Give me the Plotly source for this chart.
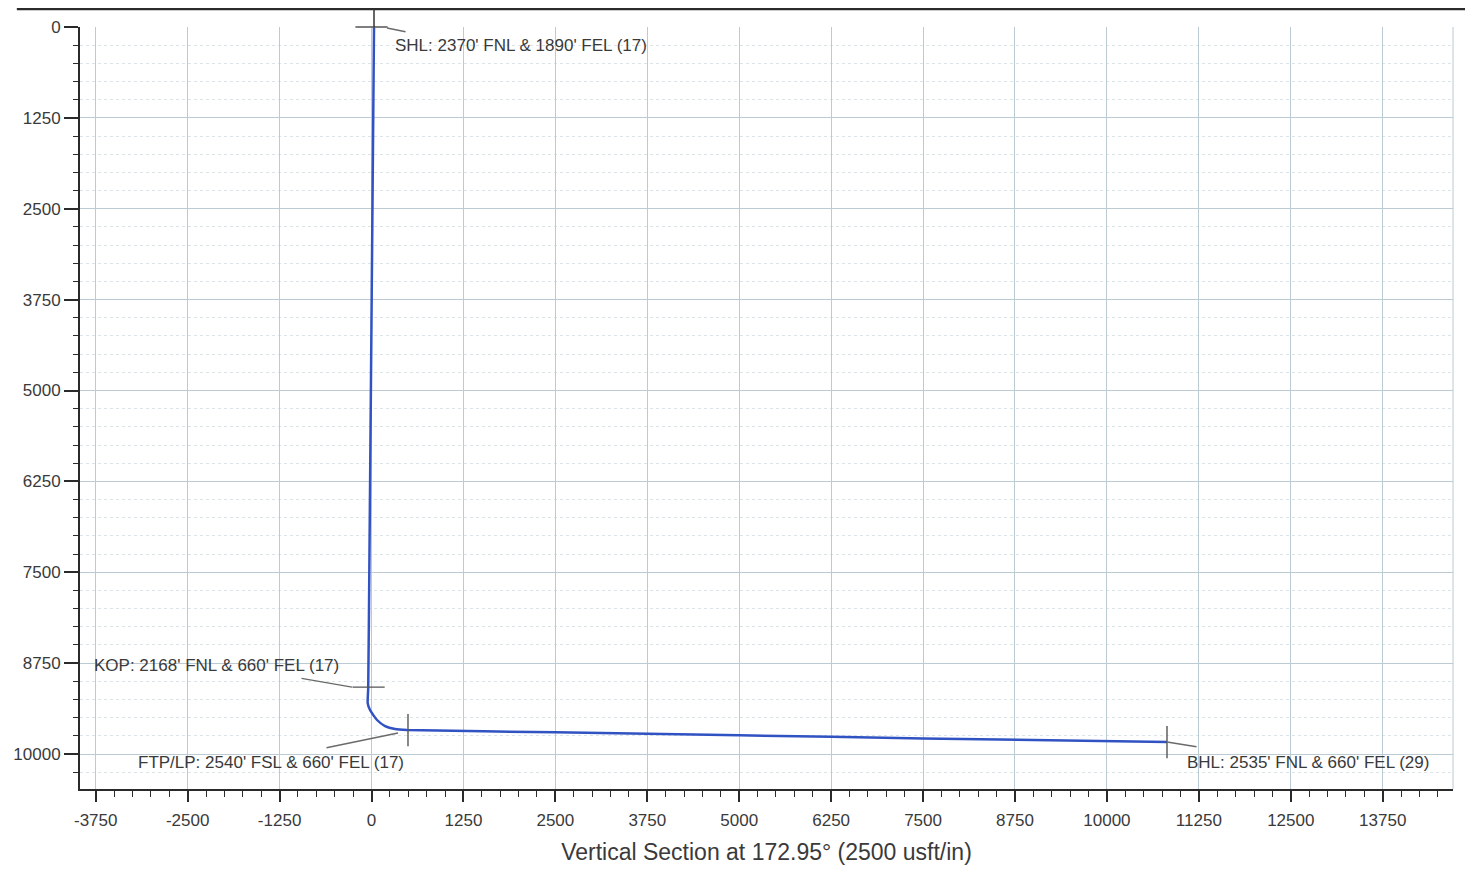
import plotly.graph_objects as go

# ---- data ----
# well path (vertical section, true vertical depth)
path_vs = [34, 0, -30, -45, -52, -20, 75, 184, 320, 483, 2500, 5000, 7500, 10817]
path_tvd = [0, 4000, 7500, 9100, 9299, 9395, 9532, 9615, 9656, 9670, 9702, 9742, 9785, 9835]

# well markers
marker_labels = ["SHL: 2370' FNL & 1890' FEL (17)",
                 "KOP: 2168' FNL & 660' FEL (17)",
                 "FTP/LP: 2540' FSL & 660' FEL (17)",
                 "BHL: 2535' FNL & 660' FEL (29)"]
marker_vs = [0, -40, 496, 10817]
marker_tvd = [0, 9080, 9670, 9835]
marker_symbol = ["line-ew", "line-ew", "line-ns", "line-ns"]

# label anchor positions (left edge / middle of each text)
label_vs = [292, -3801, -3202, 11060]
label_tvd = [248, 8776, 10110, 10110]

# leader heads (data) and tail offsets (pixels)
leader_vs = [211, -265, 360, 10817]
leader_tvd = [14, 9080, 9711, 9835]
leader_ax = [20, -52, -73, 31]
leader_ay = [4, -9, 15, 5]

# axis ticks
x_tick_vals = [-3750, -2500, -1250, 0, 1250, 2500, 3750, 5000, 6250, 7500,
               8750, 10000, 11250, 12500, 13750]
x_tick_text = ["-3750", "-2500", "-1250", "0", "1250", "2500", "3750", "5000",
               "6250", "7500", "8750", "10000", "11250", "12500", "13750"]
y_tick_vals = [0, 1250, 2500, 3750, 5000, 6250, 7500, 8750, 10000]
y_tick_text = ["0", "1250", "2500", "3750", "5000", "6250", "7500", "8750", "10000"]
minor_step = 250

x_title = "Vertical Section at 172.95° (2500 usft/in)"
x_range = [-3964, 14706]
y_range = [10481, 0]

TEXT = "#3a3a3a"
AXIS = "#2a2a2a"
GRID = "#bccad3"
MINOR_GRID = "#dde4e8"
WELL = "#3152c2"
MARK = "#555555"
FONT = "Liberation Sans, Arial, sans-serif"

fig = go.Figure()

fig.add_trace(go.Scatter(
    x=path_vs, y=path_tvd, mode="lines",
    line=dict(color=WELL, width=2.5, shape="spline", smoothing=0.5),
    hoverinfo="skip", showlegend=False))

fig.add_trace(go.Scatter(
    x=marker_vs, y=marker_tvd, mode="markers",
    marker=dict(symbol=marker_symbol, size=23, color=MARK,
                line=dict(color=MARK, width=1.4)),
    hoverinfo="skip", showlegend=False, cliponaxis=False))

annotations = []
for txt, lx, ly in zip(marker_labels, label_vs, label_tvd):
    annotations.append(dict(
        x=lx, y=ly, xref="x", yref="y", text=txt, showarrow=False,
        xanchor="left", yanchor="middle",
        font=dict(family=FONT, size=17, color=TEXT)))
for hx, hy, ax, ay in zip(leader_vs, leader_tvd, leader_ax, leader_ay):
    annotations.append(dict(
        x=hx, y=hy, xref="x", yref="y", text="", showarrow=True,
        arrowhead=0, arrowwidth=1.4, arrowcolor="#6a6a6a",
        ax=ax, ay=ay, axref="pixel", ayref="pixel"))

shapes = [
    # page border top
    dict(type="line", xref="paper", yref="paper", x0=-0.046, x1=1.0124,
         y0=1.0236, y1=1.0236, line=dict(color="#2b2b2b", width=2.5)),
    # page border right
    dict(type="line", xref="paper", yref="paper", x0=1.0095, x1=1.0095,
         y0=1.025, y1=-0.11, line=dict(color="#555555", width=1.5)),
    # plot frame right
    dict(type="line", xref="paper", yref="paper", x0=1, x1=1,
         y0=0, y1=1, line=dict(color=GRID, width=1)),
    # well line above the surface
    dict(type="line", xref="x", yref="paper", x0=path_vs[0], x1=path_vs[0],
         y0=1, y1=1.0236, line=dict(color="#333333", width=1.5)),
]

# page body adds an 8px margin; the figure is sized to fit the window exactly
fig.update_layout(
    width=1457, height=857,
    margin=dict(l=72, r=12, t=19, b=76),
    paper_bgcolor="white", plot_bgcolor="white",
    font=dict(family=FONT, size=17, color=TEXT),
    annotations=annotations, shapes=shapes,
    showlegend=False,
)

fig.update_xaxes(
    range=x_range, tickmode="array", tickvals=x_tick_vals, ticktext=x_tick_text,
    showline=True, linecolor=AXIS, linewidth=2,
    ticks="outside", ticklen=11, tickwidth=2, tickcolor=AXIS,
    tickfont=dict(family=FONT, size=17, color=TEXT), ticklabelstandoff=4,
    showgrid=True, gridcolor=GRID, gridwidth=1,
    zeroline=False, automargin=False,
    minor=dict(tick0=0, dtick=minor_step, ticks="outside", ticklen=6, tickwidth=1.3,
               tickcolor=AXIS, showgrid=False),
    title=dict(text=x_title, font=dict(family=FONT, size=23, color=TEXT), standoff=14),
)

fig.update_yaxes(
    range=y_range, tickmode="array", tickvals=y_tick_vals, ticktext=y_tick_text,
    showline=True, linecolor=AXIS, linewidth=2,
    ticks="outside", ticklen=14, tickwidth=2, tickcolor=AXIS,
    tickfont=dict(family=FONT, size=17, color=TEXT),
    showgrid=True, gridcolor=GRID, gridwidth=1,
    zeroline=False, automargin=False,
    minor=dict(tick0=0, dtick=minor_step, ticks="outside", ticklen=5, tickwidth=1.3,
               tickcolor=AXIS, showgrid=True, gridcolor=MINOR_GRID,
               griddash="dot", gridwidth=1),
)

fig.write_html("out.html")
